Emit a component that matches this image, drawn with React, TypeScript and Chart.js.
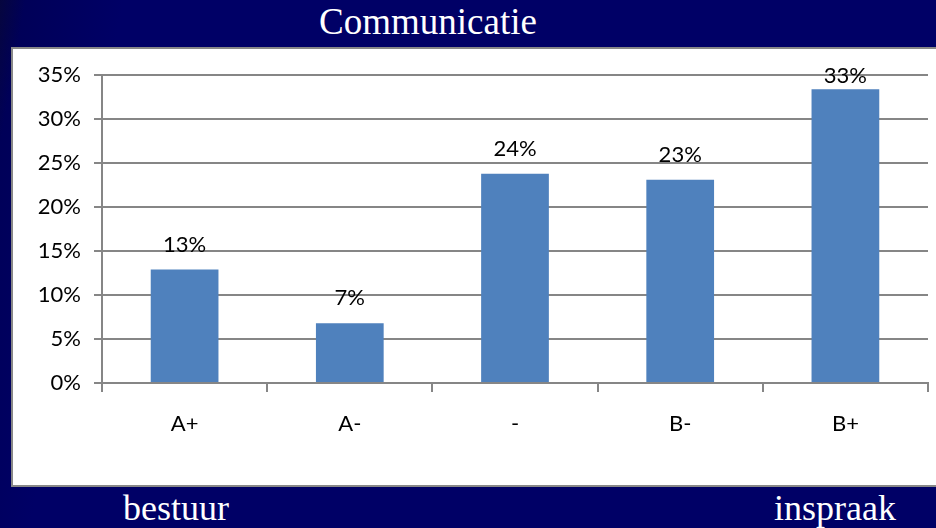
import React, { useEffect, useRef } from "react";
import { Chart, registerables } from "chart.js";

Chart.register(...registerables);

const title = "Communicatie";
const leftCaption = "bestuur";
const rightCaption = "inspraak";
const categories = ["A+", "A-", "-", "B-", "B+"];
const values = [12.9, 6.8, 23.8, 23.1, 33.4];
const valueLabels = ["13%", "7%", "24%", "23%", "33%"];
const yMin = 0;
const yMax = 35;
const yStep = 5;

const FONT = "Lato, 'Open Sans', sans-serif";
const GRID = "#868686";

const valueLabelPlugin = {
  id: "valueLabels",
  afterDatasetsDraw(chart: any) {
    const ctx = chart.ctx;
    const meta = chart.getDatasetMeta(0);
    const minY = chart.chartArea.top + 8;
    ctx.save();
    ctx.font = `22px ${FONT}`;
    ctx.fillStyle = "#000";
    ctx.textAlign = "center";
    ctx.textBaseline = "alphabetic";
    meta.data.forEach((bar: any, i: number) => {
      const y = Math.max(bar.y - 18, minY);
      ctx.fillText(valueLabels[i], bar.x, y);
    });
    ctx.restore();
  },
};

function BarChart() {
  const ref = useRef<HTMLCanvasElement | null>(null);
  useEffect(() => {
    if (!ref.current) return;
    const chart = new Chart(ref.current, {
      type: "bar",
      data: {
        labels: categories,
        datasets: [
          {
            data: values,
            backgroundColor: "#4F81BD",
            borderWidth: 0,
            barPercentage: 0.41,
            categoryPercentage: 1,
          },
        ],
      },
      options: {
        animation: false,
        responsive: false,
        maintainAspectRatio: false,
        layout: { padding: { top: 25, right: 8, left: 0, bottom: 0 } },
        plugins: {
          legend: { display: false },
          tooltip: { enabled: false },
        },
        scales: {
          x: {
            afterFit(scale: any) {
              scale.height = 102;
            },
            grid: {
              display: true,
              drawOnChartArea: false,
              drawTicks: true,
              tickLength: 9,
              color: GRID,
              lineWidth: 2,
            },
            border: { display: true, color: GRID, width: 2 },
            ticks: {
              color: "#000",
              font: { family: FONT, size: 22 },
              padding: 19,
            },
          },
          y: {
            min: yMin,
            max: yMax,
            afterFit(scale: any) {
              scale.width = 89;
            },
            ticks: {
              stepSize: yStep,
              color: "#000",
              font: { family: FONT, size: 22 },
              padding: 13,
              callback: (v: any) => `${v}%`,
            },
            grid: {
              color: GRID,
              lineWidth: 2,
              drawTicks: true,
              tickLength: 8,
            },
            border: { display: true, color: GRID, width: 2 },
          },
        },
      },
      plugins: [valueLabelPlugin],
    });
    return () => chart.destroy();
  }, []);
  return (
    <canvas
      ref={ref}
      width={923}
      height={436}
      style={{ width: 923, height: 436, display: "block" }}
    />
  );
}

export default function App() {
  const serif = "'Liberation Serif', 'Times New Roman', serif";
  return (
    <div
      style={{
        position: "fixed",
        left: 0,
        top: 0,
        width: 936,
        height: 528,
        overflow: "hidden",
        background:
          "linear-gradient(100deg, #06063e 0%, #000058 2.5%, #000066 12%, #000066 100%)",
      }}
    >
      <div
        style={{
          position: "absolute",
          left: 0,
          top: 0,
          width: 856,
          textAlign: "center",
          color: "#fff",
          fontFamily: serif,
          fontSize: 37,
          lineHeight: "44px",
          whiteSpace: "nowrap",
        }}
      >
        {title}
      </div>
      <div
        style={{
          position: "absolute",
          left: 11,
          top: 47,
          width: 923,
          height: 436,
          border: "2px solid #888",
          background: "#fff",
        }}
      >
        <BarChart />
      </div>
      <div
        style={{
          position: "absolute",
          left: 76,
          top: 486,
          width: 200,
          textAlign: "center",
          color: "#fff",
          fontFamily: serif,
          fontSize: 36,
          lineHeight: "44px",
          whiteSpace: "nowrap",
        }}
      >
        {leftCaption}
      </div>
      <div
        style={{
          position: "absolute",
          left: 735,
          top: 486,
          width: 200,
          textAlign: "center",
          color: "#fff",
          fontFamily: serif,
          fontSize: 36,
          lineHeight: "44px",
          whiteSpace: "nowrap",
        }}
      >
        {rightCaption}
      </div>
    </div>
  );
}
